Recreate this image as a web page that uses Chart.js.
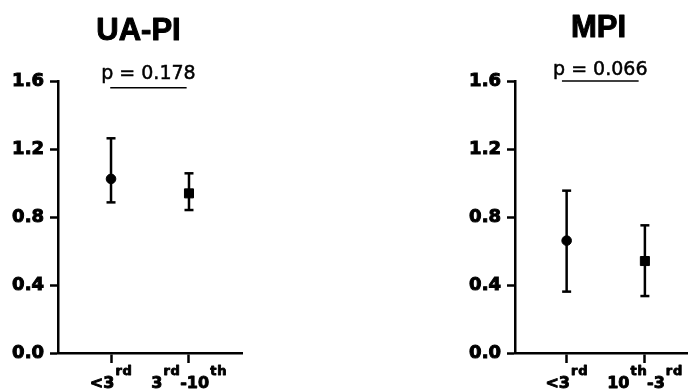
<!DOCTYPE html>
<html>
<head>
<meta charset="utf-8">
<script src="https://cdn.jsdelivr.net/npm/chart.js@4.4.1/dist/chart.umd.min.js"></script>
<style>
  html, body { margin: 0; padding: 0; background: #fff; overflow: hidden; }
  #wrap { position: relative; width: 688px; height: 390px; overflow: hidden; }
  canvas { position: absolute; top: 0; }
</style>
</head>
<body>
<div id="wrap">
  <canvas id="uaChart" width="277" height="390" style="left:0"></canvas>
  <canvas id="mpiChart" width="287" height="390" style="left:455px"></canvas>
</div>
<script>
// "^xx" marks a superscript
let uaCategories = ["<3^rd", "3^rd-10^th"];
let mpiCategories = ["<3^rd", "10^th-3^rd"];

let uaMean = [1.024, 0.939];
let uaUpper = [1.263, 1.057];
let uaLower = [0.886, 0.841];

let mpiMean = [0.661, 0.541];
let mpiUpper = [0.955, 0.751];
let mpiLower = [0.361, 0.335];

let yTicks = [0, 0.4, 0.8, 1.2, 1.6];
let pValues = ["p = 0.178", "p = 0.066"];
let uaBracket = [-0.01, 0.97];
let mpiBracket = [-0.06, 0.92];

const INK = "#000";

function heavyText(ctx, txt, x, y, stroke) {
  if (stroke > 0) {
    ctx.lineWidth = stroke;
    ctx.strokeStyle = INK;
    ctx.lineJoin = "round";
    ctx.strokeText(txt, x, y);
  }
  ctx.fillText(txt, x, y);
}

const textPlugin = {
  id: "panelText",
  afterDraw(chart, args, opts) {
    const ctx = chart.ctx;
    const xs = chart.scales.x;
    const ys = chart.scales.y;
    ctx.save();
    ctx.fillStyle = INK;
    ctx.textBaseline = "alphabetic";

    // panel title
    ctx.textAlign = "center";
    ctx.font = 'bold 31px "Liberation Sans", Arial, sans-serif';
    heavyText(ctx, opts.title, chart.width / 2, opts.titleBaseline, 1);

    // p value above the bracket
    ctx.font = '19px "DejaVu Sans", sans-serif';
    const mid = (xs.getPixelForValue(opts.bracket[0]) + xs.getPixelForValue(opts.bracket[1])) / 2;
    heavyText(ctx, opts.pText, mid, ys.getPixelForValue(opts.bracketY) - opts.pGap, 0.5);

    // category labels with superscripts
    ctx.textAlign = "left";
    const mainFont = 'bold 16px "DejaVu Sans", sans-serif';
    const supFont = 'bold 13px "DejaVu Sans", sans-serif';
    opts.labels.forEach((lab, i) => {
      const pieces = [];
      let total = 0;
      lab.split(/\^([a-z]+)/).forEach((p, k) => {
        if (!p) return;
        const sup = k % 2 === 1;
        ctx.font = sup ? supFont : mainFont;
        ctx.letterSpacing = sup ? "0.8px" : "0px";
        const w = ctx.measureText(p).width + (sup ? 0.5 : 0);
        pieces.push({ p, sup, w });
        total += w;
      });
      let cx = xs.getPixelForValue(i) - total / 2;
      pieces.forEach(s => {
        ctx.font = s.sup ? supFont : mainFont;
        ctx.letterSpacing = s.sup ? "0.8px" : "0px";
        heavyText(ctx, s.p, cx + (s.sup ? 1 : 0), s.sup ? 375 : 388, 0.9);
        cx += s.w;
      });
    });
    ctx.letterSpacing = "0px";
    ctx.restore();
  }
};

function buildDatasets(mean, lower, upper, bracket, bracketY) {
  const sets = [{
    data: mean.map((m, i) => ({ x: i, y: m })),
    pointStyle: ["circle", "rect"],
    pointRadius: [4.8, 6.4],
    pointBackgroundColor: INK,
    pointBorderColor: INK,
    pointBorderWidth: 1,
    order: 0
  }];
  mean.forEach((m, i) => {
    sets.push({
      data: [{ x: i, y: lower[i] }, { x: i, y: upper[i] }],
      showLine: true,
      borderColor: INK,
      borderWidth: 2.5,
      pointStyle: "line",
      pointRadius: 4.5,
      pointBorderWidth: 2.5,
      pointBorderColor: INK,
      order: 1
    });
  });
  sets.push({
    data: bracket.map(v => ({ x: v, y: bracketY })),
    showLine: true,
    borderColor: INK,
    borderWidth: 1.5,
    pointRadius: 0,
    clip: false,
    order: 2
  });
  return sets;
}

function makeChart(id, cfg) {
  return new Chart(id, {
    type: "scatter",
    data: { datasets: buildDatasets(cfg.mean, cfg.lower, cfg.upper, cfg.bracket, cfg.bracketY) },
    options: {
      responsive: false,
      animation: false,
      events: [],
      layout: { padding: { top: 81, right: cfg.padRight, bottom: 0, left: 0 } },
      plugins: {
        legend: { display: false },
        tooltip: { enabled: false },
        panelText: {
          title: cfg.title,
          titleBaseline: cfg.titleBaseline,
          pText: cfg.pText,
          pGap: cfg.pGap,
          bracket: cfg.bracket,
          bracketY: cfg.bracketY,
          labels: cfg.labels
        }
      },
      scales: {
        x: {
          type: "linear",
          min: cfg.xMin,
          max: cfg.xMax,
          afterBuildTicks: s => { s.ticks = cfg.labels.map((l, i) => ({ value: i })); },
          afterFit: s => { s.height = 37; },
          ticks: { display: false },
          grid: { drawOnChartArea: false, tickLength: 10, tickColor: INK, tickWidth: 2.5 },
          border: { color: INK, width: 2.5 }
        },
        y: {
          min: 0,
          max: 1.6,
          afterBuildTicks: s => { s.ticks = yTicks.map(v => ({ value: v })); },
          afterFit: s => { s.width = cfg.yWidth; },
          ticks: {
            callback: v => v.toFixed(1),
            color: INK,
            padding: 6,
            textStrokeColor: INK,
            textStrokeWidth: 1,
            font: { family: "DejaVu Sans", size: 18, weight: "bold" }
          },
          grid: { drawOnChartArea: false, tickLength: 8, tickColor: INK, tickWidth: 2.5 },
          border: { color: INK, width: 2.5 }
        }
      }
    },
    plugins: [textPlugin]
  });
}

makeChart("uaChart", {
  title: "UA-PI", titleBaseline: 40,
  pText: pValues[0], pGap: 9,
  mean: uaMean, lower: uaLower, upper: uaUpper,
  bracket: uaBracket, bracketY: 1.56,
  labels: uaCategories,
  xMin: -0.68, xMax: 1.68, yWidth: 58, padRight: 35
});

makeChart("mpiChart", {
  title: "MPI", titleBaseline: 37,
  pText: pValues[1], pGap: 6,
  mean: mpiMean, lower: mpiLower, upper: mpiUpper,
  bracket: mpiBracket, bracketY: 1.6,
  labels: mpiCategories,
  xMin: -0.66, xMax: 1.96, yWidth: 60, padRight: 22
});
</script>
</body>
</html>
